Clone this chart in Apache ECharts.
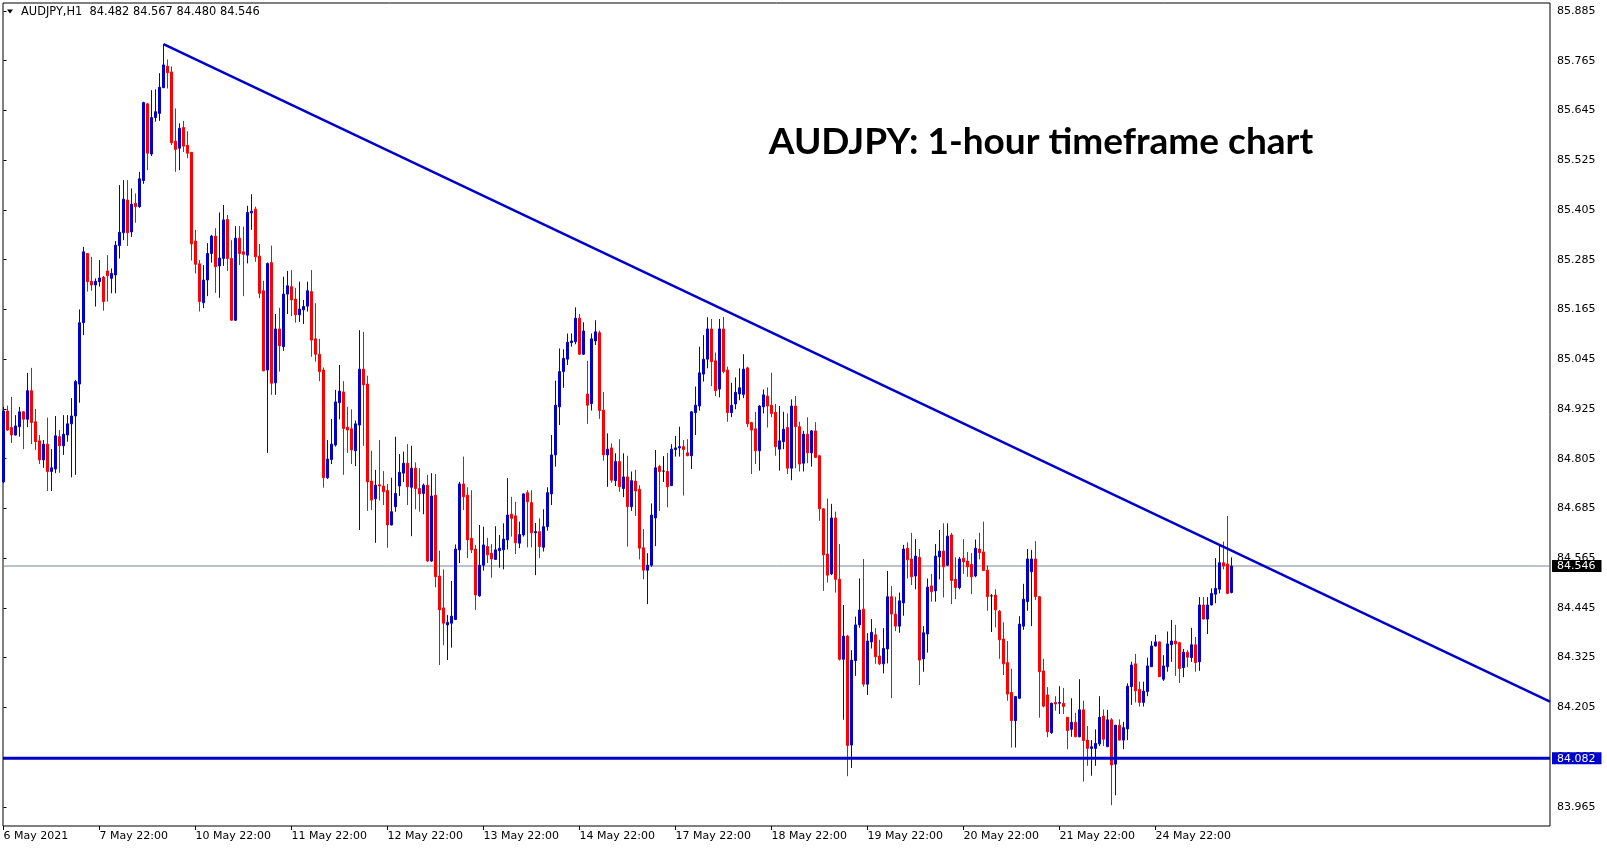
<!DOCTYPE html>
<html><head><meta charset="utf-8">
<script src="https://cdn.jsdelivr.net/npm/echarts@6/dist/echarts.min.js"></script>
<style>html,body{margin:0;padding:0;background:#fff}#c{width:1607px;height:850px}</style>
</head><body><div id="c"></div><script>
const opens=[84.749,84.920,84.880,84.862,84.882,84.918,84.900,84.969,84.894,84.848,84.802,84.840,84.774,84.780,84.858,84.836,84.862,84.889,84.908,84.985,
85.133,85.300,85.233,85.224,85.232,85.243,85.258,85.240,85.248,85.319,85.350,85.429,85.352,85.421,85.413,85.476,85.661,85.540,85.628,85.638,
85.700,85.752,85.738,85.571,85.554,85.604,85.561,85.544,85.330,85.275,85.181,85.236,85.300,85.342,85.270,85.288,85.382,85.288,85.139,85.337,
85.304,85.296,85.398,85.407,85.294,85.210,85.019,85.278,84.988,85.118,85.075,85.202,85.220,85.190,85.152,85.164,85.173,85.208,85.094,85.057,
85.019,84.759,84.803,84.838,84.940,84.966,84.881,84.877,84.824,84.886,85.021,84.985,84.751,84.708,84.742,84.739,84.728,84.645,84.689,84.739,
84.770,84.794,84.736,84.782,84.733,84.721,84.741,84.558,84.717,84.522,84.445,84.404,84.408,84.417,84.585,84.744,84.717,84.613,84.587,84.474,
84.548,84.593,84.577,84.562,84.583,84.585,84.609,84.671,84.667,84.601,84.621,84.723,84.699,84.626,84.629,84.591,84.641,84.720,84.814,84.930,
85.015,85.045,85.085,85.087,85.144,85.057,84.961,84.938,85.089,85.109,84.922,84.814,84.831,84.752,84.798,84.733,84.761,84.689,84.751,84.731,
84.590,84.536,84.548,84.662,84.786,84.775,84.774,84.740,84.827,84.831,84.834,84.819,84.812,84.916,84.932,85.009,85.045,85.118,85.041,84.973,
85.118,85.019,84.916,84.937,84.961,84.960,85.024,84.892,84.877,84.824,84.930,84.956,84.934,84.917,84.828,84.846,84.880,84.782,84.932,84.882,
84.794,84.864,84.819,84.872,84.812,84.684,84.575,84.527,84.662,84.514,84.321,84.377,84.114,84.318,84.404,84.442,84.261,84.363,84.380,84.329,
84.310,84.346,84.472,84.430,84.401,84.457,84.589,84.563,84.522,84.567,84.322,84.382,84.498,84.486,84.568,84.582,84.548,84.621,84.514,84.494,
84.565,84.558,84.550,84.522,84.587,84.580,84.536,84.474,84.476,84.437,84.370,84.313,84.241,84.173,84.227,84.401,84.460,84.532,84.563,84.472,
84.293,84.235,84.144,84.217,84.215,84.215,84.181,84.152,84.169,84.134,84.199,84.126,84.106,84.106,84.117,84.184,84.110,84.175,84.068,84.162,
84.126,84.153,84.255,84.310,84.248,84.217,84.243,84.303,84.353,84.363,84.273,84.303,84.356,84.365,84.361,84.301,84.338,84.325,84.356,84.315,
84.452,84.418,84.452,84.478,84.490,84.554,84.551,84.482];
const closes=[84.920,84.874,84.862,84.884,84.918,84.900,84.969,84.892,84.846,84.802,84.840,84.774,84.783,84.860,84.836,84.864,84.889,84.908,84.991,85.133,
85.304,85.232,85.224,85.233,85.241,85.184,85.246,85.252,85.320,85.351,85.431,85.350,85.419,85.413,85.480,85.664,85.542,85.628,85.642,85.701,
85.755,85.736,85.567,85.551,85.602,85.559,85.542,85.323,85.274,85.184,85.236,85.300,85.342,85.268,85.289,85.381,85.288,85.139,85.337,85.300,
85.298,85.399,85.402,85.292,85.204,85.017,85.276,84.987,85.118,85.077,85.202,85.222,85.188,85.152,85.166,85.172,85.210,85.091,85.057,85.015,
84.759,84.804,84.840,84.942,84.968,84.878,84.874,84.826,84.889,85.021,84.983,84.749,84.705,84.741,84.739,84.725,84.645,84.677,84.721,84.772,
84.794,84.737,84.782,84.733,84.720,84.741,84.558,84.715,84.520,84.440,84.408,84.410,84.425,84.587,84.744,84.713,84.609,84.585,84.476,84.548,
84.597,84.573,84.563,84.585,84.589,84.611,84.669,84.661,84.602,84.622,84.720,84.701,84.626,84.629,84.593,84.641,84.723,84.814,84.934,85.015,
85.047,85.086,85.089,85.144,85.057,85.113,84.934,85.094,85.111,84.921,84.814,84.828,84.753,84.798,84.737,84.761,84.689,84.752,84.727,84.589,
84.536,84.548,84.669,84.783,84.774,84.775,84.737,84.828,84.831,84.834,84.827,84.812,84.918,84.934,85.012,85.045,85.118,85.039,84.969,85.118,
85.015,84.916,84.934,84.965,84.976,85.021,84.889,84.874,84.824,84.932,84.959,84.932,84.914,84.834,84.848,84.876,84.782,84.932,84.882,84.792,
84.864,84.819,84.872,84.808,84.684,84.573,84.524,84.662,84.514,84.321,84.377,84.113,84.319,84.404,84.440,84.261,84.365,84.386,84.327,84.310,
84.347,84.472,84.430,84.401,84.462,84.587,84.561,84.520,84.570,84.319,84.385,84.495,84.484,84.570,84.582,84.544,84.618,84.511,84.494,84.563,
84.556,84.544,84.520,84.589,84.578,84.535,84.472,84.474,84.440,84.368,84.310,84.237,84.173,84.231,84.406,84.466,84.563,84.563,84.472,84.291,
84.208,84.146,84.215,84.213,84.217,84.207,84.149,84.169,84.134,84.199,84.125,84.106,84.110,84.118,84.181,84.128,84.175,84.066,84.162,84.126,
84.156,84.256,84.307,84.245,84.217,84.244,84.305,84.353,84.363,84.279,84.305,84.358,84.365,84.358,84.299,84.338,84.326,84.356,84.313,84.452,
84.418,84.452,84.480,84.492,84.554,84.546,84.480,84.546];
const lows=[84.746,84.872,84.843,84.861,84.858,84.828,84.881,84.840,84.826,84.792,84.783,84.727,84.727,84.770,84.771,84.814,84.846,84.760,84.766,84.940,
85.103,85.208,85.210,85.172,85.220,85.162,85.184,85.204,85.204,85.288,85.332,85.318,85.340,85.374,85.410,85.468,85.501,85.535,85.618,85.620,
85.699,85.698,85.562,85.497,85.501,85.545,85.530,85.283,85.252,85.160,85.168,85.197,85.278,85.205,85.193,85.270,85.258,85.138,85.137,85.272,
85.197,85.276,85.357,85.280,85.192,85.016,84.819,84.959,84.959,85.015,85.065,85.154,85.149,85.133,85.135,85.130,85.160,85.051,85.039,84.992,
84.735,84.756,84.792,84.834,84.900,84.766,84.819,84.792,84.787,84.633,84.836,84.679,84.681,84.602,84.704,84.693,84.590,84.644,84.677,84.715,
84.749,84.693,84.618,84.683,84.677,84.671,84.556,84.556,84.495,84.307,84.355,84.319,84.349,84.416,84.553,84.681,84.565,84.577,84.440,84.472,
84.535,84.553,84.518,84.561,84.542,84.538,84.586,84.617,84.575,84.589,84.617,84.591,84.591,84.524,84.565,84.581,84.631,84.693,84.786,84.886,
84.976,85.031,85.075,85.081,85.056,85.055,84.889,84.921,85.079,84.901,84.800,84.737,84.747,84.739,84.725,84.712,84.593,84.679,84.667,84.562,
84.514,84.454,84.544,84.594,84.679,84.749,84.688,84.739,84.810,84.810,84.716,84.811,84.780,84.862,84.921,84.991,85.023,84.980,84.956,84.953,
85.011,84.894,84.905,84.924,84.946,84.951,84.881,84.768,84.792,84.776,84.914,84.880,84.905,84.812,84.776,84.828,84.768,84.753,84.782,84.774,
84.774,84.794,84.786,84.807,84.655,84.486,84.506,84.524,84.482,84.318,84.175,84.039,84.059,84.281,84.397,84.255,84.235,84.347,84.310,84.307,
84.287,84.311,84.227,84.389,84.385,84.426,84.516,84.500,84.490,84.259,84.291,84.337,84.460,84.460,84.514,84.470,84.546,84.454,84.466,84.490,
84.527,84.520,84.478,84.519,84.562,84.534,84.438,84.387,84.398,84.322,84.283,84.221,84.108,84.108,84.225,84.392,84.438,84.401,84.464,84.180,
84.205,84.133,84.141,84.197,84.189,84.189,84.104,84.134,84.133,84.133,84.026,84.064,84.040,84.064,84.112,84.112,84.110,83.969,83.993,84.125,
84.104,84.126,84.211,84.217,84.207,84.207,84.232,84.303,84.352,84.278,84.269,84.291,84.315,84.281,84.264,84.278,84.302,84.315,84.291,84.293,
84.417,84.382,84.451,84.456,84.480,84.538,84.478,84.480];
const highs=[84.930,84.933,84.954,84.910,84.930,84.920,85.012,85.024,84.925,84.862,84.850,84.904,84.828,84.908,84.874,84.910,84.910,84.951,84.995,85.165,
85.316,85.301,85.292,85.240,85.284,85.246,85.296,85.264,85.330,85.465,85.477,85.477,85.457,85.445,85.497,85.666,85.663,85.694,85.696,85.735,
85.805,85.768,85.751,85.650,85.614,85.620,85.595,85.545,85.357,85.284,85.272,85.325,85.345,85.361,85.399,85.417,85.393,85.332,85.366,85.366,
85.365,85.415,85.443,85.413,85.323,85.234,85.278,85.319,85.154,85.169,85.244,85.258,85.260,85.217,85.232,85.188,85.232,85.260,85.180,85.094,
85.025,84.850,84.901,84.971,85.031,84.992,84.930,84.924,84.897,85.115,85.111,85.005,84.824,84.778,84.850,84.775,84.744,84.759,84.858,84.816,
84.822,84.840,84.836,84.796,84.782,84.745,84.766,84.770,84.768,84.583,84.538,84.428,84.510,84.598,84.749,84.810,84.736,84.729,84.597,84.645,
84.641,84.614,84.599,84.642,84.621,84.649,84.758,84.713,84.701,84.653,84.721,84.729,84.729,84.650,84.661,84.683,84.736,84.862,84.993,85.071,
85.069,85.107,85.107,85.170,85.154,85.134,85.041,85.107,85.139,85.114,84.966,84.866,84.842,84.818,84.852,84.818,84.812,84.774,84.778,84.741,
84.635,84.577,84.697,84.826,84.790,84.811,84.819,84.840,84.860,84.882,84.850,84.852,84.920,84.979,85.075,85.103,85.146,85.142,85.061,85.142,
85.147,85.027,84.988,85.001,85.023,85.057,85.027,84.894,84.918,84.934,84.972,84.977,85.012,84.937,84.932,84.918,84.914,84.948,84.956,84.894,
84.872,84.905,84.874,84.893,84.814,84.686,84.709,84.696,84.677,84.599,84.452,84.380,84.343,84.424,84.516,84.563,84.384,84.418,84.396,84.368,
84.396,84.534,84.498,84.472,84.482,84.597,84.603,84.626,84.611,84.587,84.401,84.516,84.527,84.599,84.633,84.649,84.649,84.626,84.567,84.568,
84.611,84.580,84.577,84.610,84.626,84.653,84.547,84.478,84.490,84.440,84.410,84.365,84.298,84.232,84.425,84.503,84.587,84.585,84.606,84.474,
84.322,84.254,84.216,84.232,84.256,84.252,84.182,84.227,84.192,84.273,84.221,84.160,84.126,84.152,84.232,84.200,84.199,84.179,84.162,84.176,
84.170,84.263,84.315,84.334,84.267,84.267,84.325,84.365,84.380,84.364,84.331,84.388,84.416,84.404,84.363,84.346,84.343,84.397,84.375,84.471,
84.471,84.471,84.492,84.565,84.597,84.605,84.667,84.567];

const timeTickIndex=[0,24,48,72,96,120,144,168,192,216,240,264,288];
const timeLabels=['6 May 2021','7 May 22:00','10 May 22:00','11 May 22:00','12 May 22:00','13 May 22:00','14 May 22:00','17 May 22:00','18 May 22:00','19 May 22:00','20 May 22:00','21 May 22:00','24 May 22:00'];
const priceTicks=[83.965,84.085,84.205,84.325,84.445,84.565,84.685,84.805,84.925,85.045,85.165,85.285,85.405,85.525,85.645,85.765,85.885];
const bidPrice=84.546;
const supportPrice=84.082;
const trendStart=[40,85.805];
const trendEnd=[386.625,84.219];
const headerText='AUDJPY,H1  84.482 84.567 84.480 84.546';
const titleText='AUDJPY: 1-hour timeframe chart';

const X_MIN=-0.125, X_MAX=386.625, Y_MIN=83.9188, Y_MAX=85.9043;
const UP='#0000cd', DOWN='#ff0000', FONT='DejaVu Sans';

const candleData=opens.map((o,i)=>{
  const item={value:[i,o,closes[i],lows[i],highs[i]]};
  if(o===closes[i]) item.itemStyle={color:'#000',color0:'#000',borderColor:'#000',borderColor0:'#000',borderColorDoji:'#000'};
  return item;
});

const chart=echarts.init(document.getElementById('c'),null,{renderer:'canvas'});
chart.setOption({
  animation:false,
  backgroundColor:'#fff',
  grid:{left:3,top:3,right:57,bottom:24,show:true,borderColor:'#000',borderWidth:1,backgroundColor:'transparent'},
  xAxis:{type:'value',min:X_MIN,max:X_MAX,axisLine:{show:false},splitLine:{show:false},
    axisTick:{show:true,length:4,lineStyle:{color:'#000'},customValues:timeTickIndex},
    axisLabel:{customValues:timeTickIndex,formatter:v=>timeLabels[timeTickIndex.indexOf(v)],align:'left',margin:5,
      color:'#000',fontFamily:FONT,fontSize:11,hideOverlap:false}},
  yAxis:[
    {type:'value',position:'right',min:Y_MIN,max:Y_MAX,axisLine:{show:false},splitLine:{show:false},
      axisTick:{show:true,length:3,customValues:priceTicks,lineStyle:{color:'#000'}},
      axisLabel:{customValues:priceTicks,formatter:v=>v.toFixed(3),margin:7,color:'#000',fontFamily:FONT,fontSize:11}},
    {type:'value',position:'right',min:Y_MIN,max:Y_MAX,axisLine:{show:false},splitLine:{show:false},axisTick:{show:false},
      axisLabel:{customValues:[bidPrice,supportPrice],margin:2,
        formatter:v=>(Math.abs(v-bidPrice)<1e-6?'{b|':'{s|')+v.toFixed(3)+'}',
        rich:{b:{backgroundColor:'#000',color:'#fff',padding:[1,6,0,5],fontFamily:FONT,fontSize:11,lineHeight:11},
              s:{backgroundColor:UP,color:'#fff',padding:[1,6,0,5],fontFamily:FONT,fontSize:11,lineHeight:11}}}}
  ],
  series:[
    {type:'line',name:'bid',data:[[X_MIN,bidPrice],[X_MAX,bidPrice]],symbol:'none',silent:true,z:1,
      lineStyle:{color:'#778899',width:1}},
    {type:'candlestick',data:candleData,barWidth:2,z:3,clip:true,silent:true,
      itemStyle:{color:UP,color0:DOWN,borderColor:UP,borderColor0:DOWN,borderColorDoji:'#000',borderWidth:1}},
    {type:'line',name:'support',data:[[X_MIN,supportPrice],[X_MAX,supportPrice]],symbol:'none',silent:true,z:5,
      lineStyle:{color:UP,width:3}},
    {type:'line',name:'trend',data:[trendStart,trendEnd],symbol:'none',silent:true,z:5,clip:true,
      lineStyle:{color:UP,width:2.5}}
  ],
  graphic:[
    {type:'polygon',shape:{points:[[7,9.5],[13,9.5],[10,13.5]]},style:{fill:'#000'}},
    {type:'text',x:21,y:12,style:{text:headerText,font:'11.4px "DejaVu Sans"',fill:'#000',align:'left',verticalAlign:'middle',textAlign:'left',textVerticalAlign:'middle'}},
    {type:'text',x:1041,y:142,style:{text:titleText,font:'bold 37px Lato',fill:'#000',align:'center',verticalAlign:'middle',textAlign:'center',textVerticalAlign:'middle'}}
  ]
});
</script></body></html>
